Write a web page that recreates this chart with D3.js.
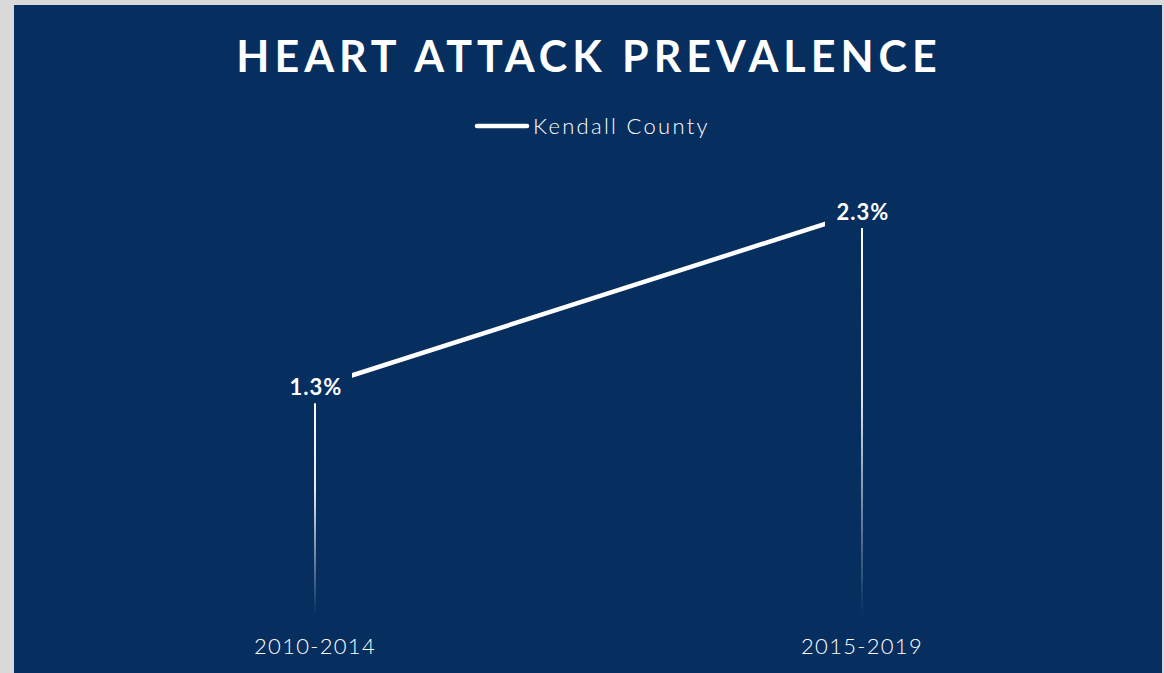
<!DOCTYPE html>
<html>
<head>
<meta charset="utf-8">
<script src="https://cdn.jsdelivr.net/npm/d3@7"></script>
<style>
  body { margin: 0; background: #ffffff; }
</style>
</head>
<body>
<script>
const periods = ["2010-2014", "2015-2019"];
const prevalence = [1.3, 2.3];
const seriesName = "Kendall County";
const titleText = "HEART ATTACK PREVALENCE";

const width = 1164;
const height = 673;
const bg = "#062e5f";
const font = "Lato, 'Open Sans', sans-serif";

const svg = d3.select("body")
  .append("svg")
  .attr("width", width)
  .attr("height", height);

// light frame like the exported slide
svg.append("rect")
  .attr("width", width)
  .attr("height", height)
  .attr("fill", "#d9d9d9");

svg.append("rect")
  .attr("x", 14)
  .attr("y", 5)
  .attr("width", 1148)
  .attr("height", height - 5)
  .attr("fill", bg);

// gradient for the drop lines
const defs = svg.append("defs");
const grad = defs.append("linearGradient")
  .attr("id", "dropGrad")
  .attr("x1", 0).attr("y1", 0).attr("x2", 0).attr("y2", 1);
grad.append("stop").attr("offset", "0%").attr("stop-color", "#ffffff").attr("stop-opacity", 1);
grad.append("stop").attr("offset", "45%").attr("stop-color", "#ffffff").attr("stop-opacity", 0.9);
grad.append("stop").attr("offset", "100%").attr("stop-color", "#ffffff").attr("stop-opacity", 0);

// title
svg.append("text")
  .attr("x", 589)
  .attr("y", 72)
  .attr("text-anchor", "middle")
  .attr("fill", "white")
  .attr("font-family", font)
  .attr("font-weight", "bold")
  .attr("font-size", "43px")
  .attr("letter-spacing", "5px")
  .text(titleText);

// legend
svg.append("line")
  .attr("x1", 477).attr("x2", 527)
  .attr("y1", 126).attr("y2", 126)
  .attr("stroke", "white")
  .attr("stroke-width", 4.5)
  .attr("stroke-linecap", "round");

svg.append("text")
  .attr("x", 533)
  .attr("y", 134)
  .attr("fill", "white")
  .attr("font-family", font)
  .attr("font-weight", 300)
  .attr("font-size", "22px")
  .attr("letter-spacing", "2.3px")
  .text(seriesName);

// scales
const x = d3.scalePoint()
  .domain(periods)
  .range([315, 862]);

const y = d3.scaleLinear()
  .domain([0, 2.5])
  .range([615, 177]);

const data = periods.map((p, i) => ({ period: p, value: prevalence[i] }));

// drop lines
svg.selectAll(".drop")
  .data(data)
  .enter()
  .append("rect")
  .attr("class", "drop")
  .attr("x", (d) => x(d.period) - 1)
  .attr("y", (d) => y(d.value))
  .attr("width", 2)
  .attr("height", (d) => y(0) - y(d.value))
  .attr("fill", "url(#dropGrad)");

// line
const line = d3.line()
  .x((d) => x(d.period))
  .y((d) => y(d.value));

svg.append("path")
  .datum(data)
  .attr("d", line)
  .attr("fill", "none")
  .attr("stroke", "white")
  .attr("stroke-width", 4.5);

// data labels (centered on points, with background)
const labels = svg.selectAll(".lbl")
  .data(data)
  .enter()
  .append("g")
  .attr("class", "lbl")
  .attr("transform", (d) => `translate(${x(d.period)},${y(d.value)})`);

labels.append("rect")
  .attr("x", -37)
  .attr("y", -16)
  .attr("width", 74)
  .attr("height", 32)
  .attr("fill", bg);

labels.append("text")
  .attr("x", 1)
  .attr("text-anchor", "middle")
  .attr("dy", "0.35em")
  .attr("fill", "white")
  .attr("font-family", font)
  .attr("font-weight", "bold")
  .attr("font-size", "22px")
  .attr("letter-spacing", "1px")
  .text((d) => d.value.toFixed(1) + "%");

// x axis labels
svg.selectAll(".xlab")
  .data(periods)
  .enter()
  .append("text")
  .attr("class", "xlab")
  .attr("x", (d) => x(d))
  .attr("y", 654)
  .attr("text-anchor", "middle")
  .attr("fill", "white")
  .attr("font-family", font)
  .attr("font-weight", 300)
  .attr("font-size", "22px")
  .attr("letter-spacing", "1.3px")
  .text((d) => d);
</script>
</body>
</html>
